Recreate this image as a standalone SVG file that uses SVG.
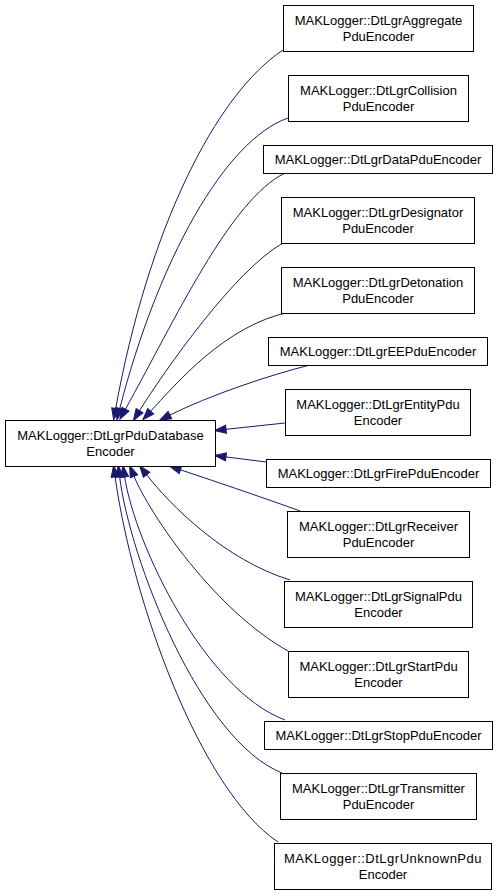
<svg xmlns="http://www.w3.org/2000/svg" width="499" height="893" viewBox="0 0 499 893">
<style>
.n rect{fill:#fff;stroke:#000;stroke-width:1}
.n text{font-family:"Liberation Sans",Arial,sans-serif;font-size:13px;text-anchor:middle;fill:#000}
.e path{fill:none;stroke:#191970;stroke-width:1;marker-end:url(#ah)}
</style>
<defs>
<marker id="ah" markerUnits="userSpaceOnUse" markerWidth="12" markerHeight="9" refX="1" refY="4.5" orient="auto" viewBox="0 0 12 9" overflow="visible">
<path d="M0,0.5 L11.5,4.5 L0,8.5 Z" fill="#191970" stroke="#191970" stroke-width="1"/>
</marker>
</defs>
<rect width="499" height="893" fill="#fff"/>
<g id="edges" class="e">
<path d="M283,50 C215,95 148,230 115.5,409.5"/>
<path d="M288,118 C225,140 158,260 119.5,409.5"/>
<path d="M285,173 C230,200 175,320 125,410"/>
<path d="M283,243 C235,270 165,370 139,411.5"/>
<path d="M290,312 C225,325 175,385 150,412"/>
<path d="M310,365 C270,375 210,395 169,415.5"/>
<path d="M285,423 L225,429.4"/>
<path d="M266,462 L225,456.8"/>
<path d="M300,511 C270,500 220,483 179.5,469.5"/>
<path d="M290,580 C225,560 170,505 146,474"/>
<path d="M288,651 C215,610 150,515 133.6,475.3"/>
<path d="M285,720 C205,690 135,545 124.5,476"/>
<path d="M282,773 C200,740 130,560 119.5,476"/>
<path d="M278,842 C200,790 132,600 115,476"/>
</g>
<g id="base" class="n"><rect x="5.5" y="420.5" width="210" height="46"/><text x="110.5" y="439.5">MAKLogger::DtLgrPduDatabase</text><text x="110.5" y="455.5">Encoder</text></g>
<g id="aggregate" class="n"><rect x="283.5" y="5.5" width="190" height="46"/><text x="378.5" y="24.5">MAKLogger::DtLgrAggregate</text><text x="378.5" y="40.5">PduEncoder</text></g>
<g id="collision" class="n"><rect x="288.5" y="75.5" width="180" height="46"/><text x="378.5" y="94.5">MAKLogger::DtLgrCollision</text><text x="378.5" y="110.5">PduEncoder</text></g>
<g id="data" class="n"><rect x="263.5" y="145.5" width="229" height="28"/><text x="378" y="164">MAKLogger::DtLgrDataPduEncoder</text></g>
<g id="designator" class="n"><rect x="281.5" y="197.5" width="193" height="46"/><text x="378" y="216.5">MAKLogger::DtLgrDesignator</text><text x="378" y="232.5">PduEncoder</text></g>
<g id="detonation" class="n"><rect x="281.5" y="267.5" width="193" height="46"/><text x="378" y="286.5">MAKLogger::DtLgrDetonation</text><text x="378" y="302.5">PduEncoder</text></g>
<g id="ee" class="n"><rect x="268.5" y="337.5" width="219" height="28"/><text x="378" y="356">MAKLogger::DtLgrEEPduEncoder</text></g>
<g id="entity" class="n"><rect x="285.5" y="389.5" width="185" height="46"/><text x="378" y="408.5">MAKLogger::DtLgrEntityPdu</text><text x="378" y="424.5">Encoder</text></g>
<g id="fire" class="n"><rect x="266.5" y="459.5" width="224" height="28"/><text x="378.5" y="478">MAKLogger::DtLgrFirePduEncoder</text></g>
<g id="receiver" class="n"><rect x="287.5" y="511.5" width="182" height="46"/><text x="378.5" y="530.5">MAKLogger::DtLgrReceiver</text><text x="378.5" y="546.5">PduEncoder</text></g>
<g id="signal" class="n"><rect x="284.5" y="581.5" width="188" height="46"/><text x="378.5" y="600.5">MAKLogger::DtLgrSignalPdu</text><text x="378.5" y="616.5">Encoder</text></g>
<g id="start" class="n"><rect x="288.5" y="651.5" width="180" height="46"/><text x="378.5" y="670.5">MAKLogger::DtLgrStartPdu</text><text x="378.5" y="686.5">Encoder</text></g>
<g id="stop" class="n"><rect x="264.5" y="721.5" width="228" height="28"/><text x="378.5" y="740">MAKLogger::DtLgrStopPduEncoder</text></g>
<g id="transmitter" class="n"><rect x="280.5" y="773.5" width="196" height="46"/><text x="378.5" y="792.5">MAKLogger::DtLgrTransmitter</text><text x="378.5" y="808.5">PduEncoder</text></g>
<g id="unknown" class="n"><rect x="274.5" y="843.5" width="217" height="46"/><text x="383" y="862.5" letter-spacing="0.5">MAKLogger::DtLgrUnknownPdu</text><text x="383" y="878.5">Encoder</text></g>
</svg>
